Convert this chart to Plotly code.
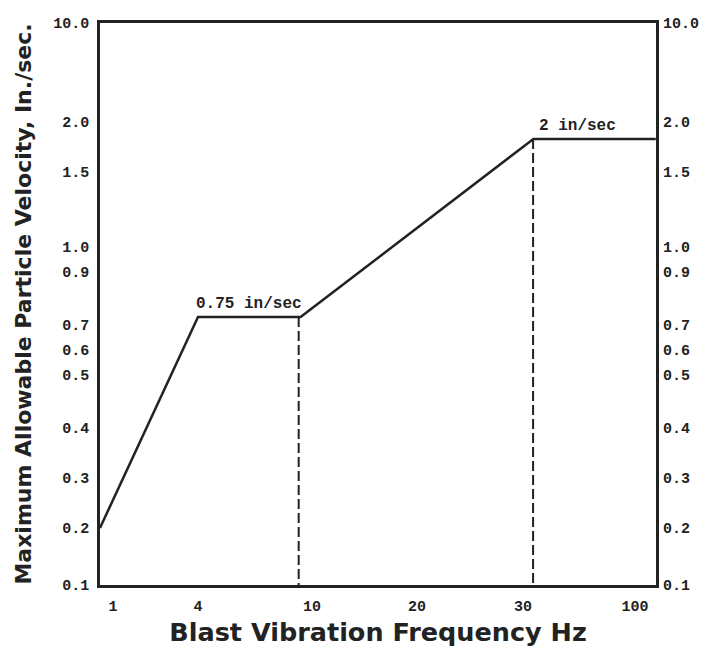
import numpy as np
import plotly.graph_objects as go

# ---- axis scales (hand-drawn, piecewise axes): tick values and their place along each axis ----
x_tick_values = [1, 4, 10, 20, 30, 100]
x_tick_labels = ["1", "4", "10", "20", "30", "100"]
x_tick_place = [13, 98, 212, 317, 423, 535]       # axis units, 0 = left edge
X_LEN = 556

y_tick_values = [0.1, 0.2, 0.3, 0.4, 0.5, 0.6, 0.7, 0.9, 1.0, 1.5, 2.0, 10.0]
y_tick_labels = ["0.1", "0.2", "0.3", "0.4", "0.5", "0.6", "0.7", "0.9", "1.0", "1.5", "2.0", "10.0"]
y_tick_place = [0, 57, 107, 157, 210, 235, 260, 313, 338, 413, 463, 562]  # axis units, 0 = bottom
Y_LEN = 562

# ---- data ----
freq_hz = [0.54, 4.0, 9.4, 36.5, 113.0]
velocity = [0.2, 0.73, 0.73, 1.83, 1.83]
dashed_freq = [9.3, 36.3]
dashed_top = [0.73, 1.83]
dashed_bottom = 0.1
label_1 = "0.75 in/sec"
label_2 = "2 in/sec"


def scale(v, vals, place):
    """Piecewise-linear axis scale with linear extrapolation at both ends."""
    v = np.asarray(v, dtype=float)
    vals = np.asarray(vals, dtype=float)
    place = np.asarray(place, dtype=float)
    out = np.interp(v, vals, place)
    lo = v < vals[0]
    hi = v > vals[-1]
    out[lo] = place[0] + (v[lo] - vals[0]) * (place[1] - place[0]) / (vals[1] - vals[0])
    out[hi] = place[-1] + (v[hi] - vals[-1]) * (place[-1] - place[-2]) / (vals[-1] - vals[-2])
    return out


def sx(v):
    return scale(v, x_tick_values, x_tick_place)


def sy(v):
    return scale(v, y_tick_values, y_tick_place)


INK = "#222222"
TICK_FONT = dict(family="Liberation Mono", size=15, color=INK, weight="bold")
TITLE_FONT = dict(family="DejaVu Sans", size=22, color=INK, weight="bold")
NOTE_FONT = dict(family="Liberation Mono", size=16, color=INK, weight="bold")

fig = go.Figure()

# main curve
fig.add_trace(go.Scatter(
    x=sx(freq_hz), y=sy(velocity), mode="lines",
    line=dict(color=INK, width=2.5), hoverinfo="skip", showlegend=False,
))

# dashed verticals
for f, top in zip(dashed_freq, dashed_top):
    fig.add_trace(go.Scatter(
        x=sx([f, f]), y=sy([top, dashed_bottom]), mode="lines",
        line=dict(color=INK, width=2, dash="10px,4px"), hoverinfo="skip", showlegend=False,
    ))

# invisible trace for the right-hand axis
fig.add_trace(go.Scatter(x=[0], y=[0], yaxis="y2", mode="markers",
                         marker=dict(opacity=0), hoverinfo="skip", showlegend=False))

# plateau labels
x1 = sx([freq_hz[1], freq_hz[2]])
fig.add_annotation(x=float(x1.mean()), y=float(sy([velocity[1]])[0]), text=label_1,
                   showarrow=False, yanchor="bottom", yshift=2, font=NOTE_FONT)
fig.add_annotation(x=float(sx([freq_hz[3]])[0]), y=float(sy([velocity[3]])[0]), text=label_2,
                   showarrow=False, xanchor="left", yanchor="bottom", xshift=4, yshift=2,
                   font=NOTE_FONT)

axis_common = dict(showgrid=False, zeroline=False, ticks="", showline=True, automargin=False,
                   linecolor=INK, linewidth=2.5, tickfont=TICK_FONT)

fig.update_layout(
    width=708, height=648,
    margin=dict(l=100, r=52, t=23, b=63),
    paper_bgcolor="white", plot_bgcolor="white",
    xaxis=dict(range=[0, X_LEN], tickmode="array", tickvals=x_tick_place, ticktext=x_tick_labels,
               mirror=True, ticklabelstandoff=5,
               title=dict(text="Blast Vibration Frequency Hz", font=dict(TITLE_FONT, size=25.5), standoff=9),
               **axis_common),
    yaxis=dict(range=[0, Y_LEN], tickmode="array", tickvals=y_tick_place, ticktext=y_tick_labels,
               mirror=True, ticklabelstandoff=5,
               title=dict(text="Maximum Allowable Particle Velocity, In./sec.", font=TITLE_FONT, standoff=16),
               **axis_common),
    yaxis2=dict(range=[0, Y_LEN], tickmode="array", tickvals=y_tick_place, ticktext=y_tick_labels,
                overlaying="y", side="right", ticklabelstandoff=6, automargin=False,
                showgrid=False, zeroline=False, ticks="", showline=False, tickfont=TICK_FONT),
)

fig.write_html("out.html", config={"displayModeBar": False},
               post_script="document.body.style.margin='0';")
